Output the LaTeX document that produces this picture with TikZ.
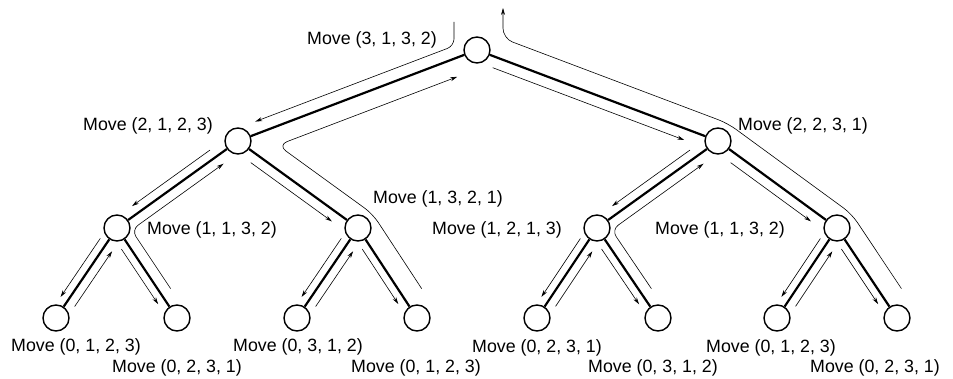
\documentclass[tikz,border=0pt]{standalone}
\usepackage{fontspec}
\setmainfont{Liberation Sans}
\usetikzlibrary{calc,arrows.meta}

% a line parallel to the branch #2--#3 at distance #4, on side #5 (90 = left of travel)
\newcommand\offsetline[5]{%
  \coordinate (#1s) at ($(#2)!#4!#5:(#3)$);
  \coordinate (#1e) at ($(#1s)+(#3)-(#2)$);}
% a piece of such a line, trimmed by #2 at its start and #3 at its end
\newcommand\tracepiece[4]{%
  \draw[#4] ($(#1s)!#2!(#1e)$) -- ($(#1e)!#3!(#1s)$);}

\begin{document}
\begin{tikzpicture}[x=1pt,y=-1pt,
  state/.style={circle,draw,line width=1.4pt,minimum size=26pt,inner sep=0pt},
  branch/.style={line width=2.2pt},
  trace/.style={line width=0.6pt},
  tipfwd/.style={trace,-{Stealth[length=7pt,width=4pt]}},
  tipback/.style={trace,{Stealth[length=7pt,width=4pt]}-},
  lbl/.style={font=\fontsize{17.8pt}{20pt}\selectfont,inner sep=0pt}]
\fill[white] (0,0) rectangle (953,379);
\useasboundingbox (0,0) rectangle (953,379);

% call tree
\node[state] (r)  at (477,50) {};
\node[state] (a)  at (238,141) {};
\node[state] (b)  at (718,141) {};
\node[state] (aa) at (117,228) {};
\node[state] (ab) at (358,228) {};
\node[state] (ba) at (597,228) {};
\node[state] (bb) at (837,228) {};
\node[state] (aaa) at (56,318) {};
\node[state] (aab) at (177,318) {};
\node[state] (aba) at (297,318) {};
\node[state] (abb) at (417,318) {};
\node[state] (baa) at (537,318) {};
\node[state] (bab) at (658,318) {};
\node[state] (bba) at (777,318) {};
\node[state] (bbb) at (897,318) {};

\foreach \u/\v in {r/a,r/b,a/aa,a/ab,b/ba,b/bb,aa/aaa,aa/aab,ab/aba,ab/abb,ba/baa,ba/bab,bb/bba,bb/bbb}
  \draw[branch] (\u) -- (\v);

% guide lines beside the branches
\offsetline{rAin}{r}{a}{12pt}{-90}
\offsetline{rAup}{r}{a}{18pt}{90}
\offsetline{rBdn}{r}{b}{11pt}{-90}
\offsetline{rBup}{r}{b}{20pt}{90}
\offsetline{aAdn}{a}{aa}{9pt}{-90}
\offsetline{aAup}{a}{aa}{10pt}{90}
\offsetline{aBdn}{a}{ab}{10pt}{-90}
\offsetline{aBup}{a}{ab}{20pt}{90}
\offsetline{bAdn}{b}{ba}{9pt}{-90}
\offsetline{bAup}{b}{ba}{10pt}{90}
\offsetline{bBdn}{b}{bb}{10pt}{-90}
\offsetline{bBup}{b}{bb}{20pt}{90}
\offsetline{aaRup}{aa}{aab}{11pt}{90}
\offsetline{abRup}{ab}{abb}{20pt}{90}
\offsetline{baRup}{ba}{bab}{11pt}{90}
\offsetline{bbRup}{bb}{bbb}{20pt}{90}

% calls into the leaves and back
\foreach \p/\l/\q in {aa/aaa/aab,ab/aba/abb,ba/baa/bab,bb/bba/bbb}{
  \offsetline{\p Ldn}{\p}{\l}{8pt}{-90}
  \offsetline{\p Lup}{\p}{\l}{9pt}{90}
  \offsetline{\p Rdn}{\p}{\q}{8pt}{-90}
  \tracepiece{\p Ldn}{18pt}{20pt}{tipfwd}
  \tracepiece{\p Lup}{22pt}{20pt}{tipback}
  \tracepiece{\p Rdn}{20pt}{22pt}{tipfwd}
}

% calls into the inner nodes
\tracepiece{aAdn}{28pt}{25pt}{tipfwd}
\tracepiece{aBdn}{23pt}{25pt}{tipfwd}
\tracepiece{bAdn}{28pt}{25pt}{tipfwd}
\tracepiece{bBdn}{23pt}{25pt}{tipfwd}
\tracepiece{rBdn}{21pt}{32pt}{tipfwd}

% entry from above
\coordinate (inTop)   at ($(r)+(-23,-28)$);
\coordinate (inFoot)  at ($(r)+(-23,0)$);
\coordinate (outTop)  at ($(r)+(26,-42)$);
\coordinate (outFoot) at ($(r)+(26,0)$);
\draw[tipfwd,rounded corners=7pt] (inTop)
  -- (intersection of inTop--inFoot and rAins--rAine)
  -- ($(rAine)!23pt!(rAins)$);

% returns
\draw[tipfwd,rounded corners=8pt] ($(aaRupe)!28pt!(aaRups)$)
  -- (intersection of aaRups--aaRupe and aAups--aAupe)
  -- ($(aAups)!25pt!(aAupe)$);
\draw[tipfwd,rounded corners=8pt] ($(baRupe)!28pt!(baRups)$)
  -- (intersection of baRups--baRupe and bAups--bAupe)
  -- ($(bAups)!25pt!(bAupe)$);
\draw[tipfwd,rounded corners=10pt] ($(abRupe)!22pt!(abRups)$)
  -- (intersection of abRups--abRupe and aBups--aBupe)
  -- (intersection of aBups--aBupe and rAups--rAupe)
  -- ($(rAups)!28pt!(rAupe)$);
\draw[tipfwd,rounded corners=10pt] ($(bbRupe)!22pt!(bbRups)$)
  -- (intersection of bbRups--bbRupe and bBups--bBupe)
  -- (intersection of bBups--bBupe and rBups--rBupe)
  -- (intersection of rBups--rBupe and outTop--outFoot)
  -- (outTop);

% moves
\node[lbl] (m3132) at (372,40)  {Move (3, 1, 3, 2)};
\node[lbl] (m2123) at (148,126) {Move (2, 1, 2, 3)};
\node[lbl] (m2231) at (803,126) {Move (2, 2, 3, 1)};
\node[lbl] (m1321) at (438,199) {Move (1, 3, 2, 1)};
\node[lbl] (m1132a) at (212,230) {Move (1, 1, 3, 2)};
\node[lbl] (m1213) at (497,230) {Move (1, 2, 1, 3)};
\node[lbl] (m1132b) at (720,230) {Move (1, 1, 3, 2)};
\node[lbl] (l1) at (76,347)  {Move (0, 1, 2, 3)};
\node[lbl] (l2) at (177,368) {Move (0, 2, 3, 1)};
\node[lbl] (l3) at (298,347) {Move (0, 3, 1, 2)};
\node[lbl] (l4) at (416,368) {Move (0, 1, 2, 3)};
\node[lbl] (l5) at (537,348) {Move (0, 2, 3, 1)};
\node[lbl] (l6) at (653,368) {Move (0, 3, 1, 2)};
\node[lbl] (l7) at (771,348) {Move (0, 1, 2, 3)};
\node[lbl] (l8) at (875,368) {Move (0, 2, 3, 1)};
\end{tikzpicture}
\end{document}
